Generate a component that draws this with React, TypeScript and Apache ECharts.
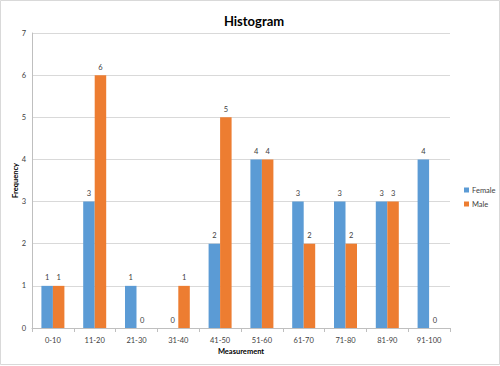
import React, { useEffect, useRef } from "react";
import * as echarts from "echarts";

const categories = ["0-10", "11-20", "21-30", "31-40", "41-50", "51-60", "61-70", "71-80", "81-90", "91-100"];
const female = [1, 3, 1, 0, 2, 4, 3, 3, 3, 4];
const male = [1, 6, 0, 1, 5, 4, 2, 2, 3, 0];

export default function App() {
  const ref = useRef<HTMLDivElement>(null);
  useEffect(() => {
    document.body.style.margin = "0";
    const chart = echarts.init(ref.current!, null, { renderer: "svg" });
    const font = "Lato, 'Open Sans', 'Liberation Sans', sans-serif";
    const labelStyle = { show: true, position: "top" as const, fontSize: 7.5, color: "#404040", fontFamily: font, distance: 4 };
    chart.setOption({
      animation: false,
      backgroundColor: "#ffffff",
      title: {
        text: "Histogram",
        left: 249,
        top: 9,
        textAlign: "center",
        textStyle: { fontSize: 13, fontWeight: "bold", color: "#000", fontFamily: font },
      },
      legend: {
        orient: "vertical",
        left: 459,
        top: 181,
        itemWidth: 5,
        itemHeight: 5,
        itemGap: 6,
        icon: "rect",
        textStyle: { fontSize: 7.5, color: "#404040", fontFamily: font, padding: [0, 0, 0, -2] },
        data: ["Female", "Male"],
      },
      grid: { left: 32, right: 50, top: 33, bottom: 38, containLabel: false, outerBoundsMode: "none" },
      xAxis: {
        type: "category",
        data: categories,
        name: "Measurement",
        nameLocation: "middle",
        nameGap: 19,
        nameMoveOverlap: false,
        nameTextStyle: { fontSize: 7.5, fontWeight: "bold", color: "#000", fontFamily: font },
        axisLine: { lineStyle: { color: "#bfbfbf" } },
        axisTick: { show: true, length: 4, lineStyle: { color: "#bfbfbf" } },
        axisLabel: { fontSize: 7.5, color: "#404040", fontFamily: font, margin: 8 },
      },
      yAxis: {
        type: "value",
        min: 0,
        max: 7,
        interval: 1,
        name: "Frequency",
        nameLocation: "middle",
        nameGap: 13,
        nameMoveOverlap: false,
        nameTextStyle: { fontSize: 7.5, fontWeight: "bold", color: "#000", fontFamily: font },
        axisLine: { show: true, lineStyle: { color: "#bfbfbf" } },
        axisTick: { show: false },
        axisLabel: { fontSize: 7.5, color: "#404040", fontFamily: font, margin: 6 },
        splitLine: { lineStyle: { color: "#d9d9d9", width: 1 } },
      },
      series: [
        {
          name: "Female",
          type: "bar",
          data: female,
          barWidth: 11.5,
          barGap: "0%",
          itemStyle: { color: "#5B9BD5" },
          label: labelStyle,
        },
        {
          name: "Male",
          type: "bar",
          data: male,
          barWidth: 11.5,
          barGap: "0%",
          itemStyle: { color: "#ED7D31" },
          label: labelStyle,
        },
      ],
      graphic: [
        {
          type: "rect",
          shape: { x: 0.5, y: 0.5, width: 499, height: 364 },
          style: { fill: "none", stroke: "#d9d9d9", lineWidth: 1 },
          silent: true,
        },
      ],
    });
    return () => chart.dispose();
  }, []);
  return <div ref={ref} style={{ width: 500, height: 366 }} />;
}
